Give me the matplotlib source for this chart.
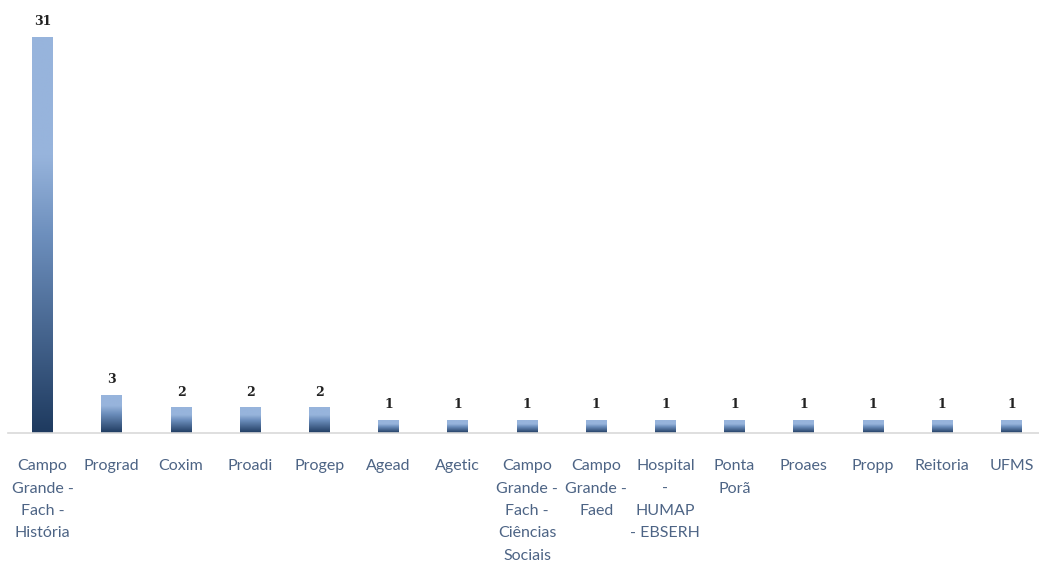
import numpy as np
import matplotlib
matplotlib.use("Agg")
import matplotlib.pyplot as plt
from matplotlib.colors import LinearSegmentedColormap

# --- DATA ---
categories = [
    "Campo\nGrande -\nFach -\nHistória", "Prograd", "Coxim", "Proadi", "Progep",
    "Agead", "Agetic", "Campo\nGrande -\nFach -\nCiências\nSociais",
    "Campo\nGrande -\nFaed", "Hospital\n-\nHUMAP\n- EBSERH", "Ponta\nPorã",
    "Proaes", "Propp", "Reitoria", "UFMS",
]
values = [31, 3, 2, 2, 2, 1, 1, 1, 1, 1, 1, 1, 1, 1, 1]

# --- STYLE ---
light = "#97b4dc"
dark = "#1e3a5f"
label_color = "#4d6485"
grad = LinearSegmentedColormap.from_list(
    "bar", [(0.0, dark), (0.5, "#6d8fbd"), (0.7, light), (1.0, light)])

fig = plt.figure(figsize=(10.39, 5.64), dpi=100)
ax = fig.add_axes([8 / 1039, 1 - 433 / 564, 1038 / 1039, 433 / 564])

x = np.arange(len(values))
bars = ax.bar(x, values, width=0.30, color="none", edgecolor="none")

# vertical gradient inside each bar, dark at the bottom
g = np.linspace(0, 1, 256).reshape(-1, 1)
for b in bars:
    x0, w, h = b.get_x(), b.get_width(), b.get_height()
    im = ax.imshow(g, cmap=grad, origin="lower", aspect="auto",
                   extent=[x0, x0 + w, 0, h], zorder=2)
    im.set_clip_path(b)
    ax.text(x0 + w / 2, h + 0.7, str(int(h)), ha="center", va="bottom",
            fontsize=9, fontweight="bold", family="DejaVu Serif",
            color="#222222")

ax.set_xlim(-0.5, len(values) - 0.5)
ax.set_ylim(0, 33.9)
ax.set_xticks(x)
ax.set_xticklabels(categories, fontsize=11.5, family="Lato", color=label_color,
                   linespacing=1.76, va="top")
ax.tick_params(axis="x", length=0, pad=19)
ax.set_yticks([])
for side in ["left", "right", "top"]:
    ax.spines[side].set_visible(False)
ax.spines["bottom"].set_color("#d9d9d9")
ax.spines["bottom"].set_linewidth(1.2)

fig.savefig("out.png", dpi=100)
